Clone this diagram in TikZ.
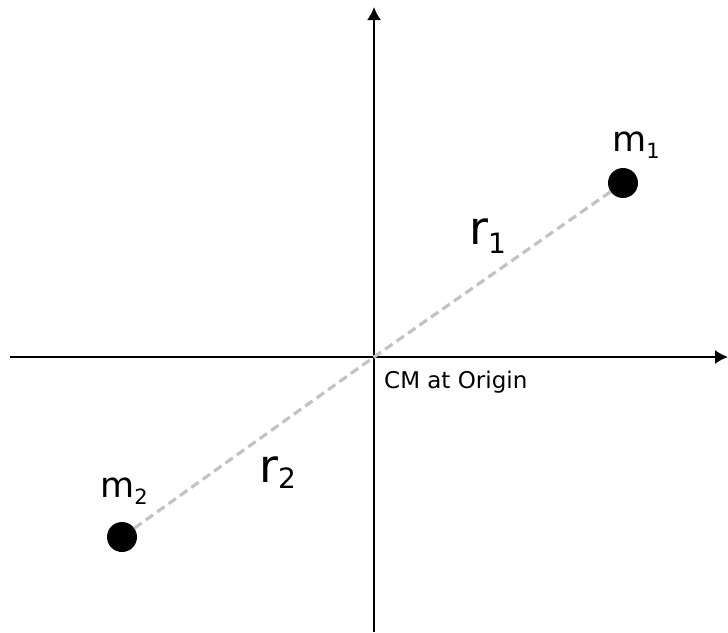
\documentclass[tikz,border=0pt]{standalone}
\usepackage{fontspec}
\setmainfont{DejaVu Sans}
\usepackage{tikz}
\usetikzlibrary{arrows.meta, positioning}
\definecolor{axiscolor}{RGB}{0,0,0}
\definecolor{sepcolor}{RGB}{195,195,195}
\definecolor{masscolor}{RGB}{0,0,0}

\begin{document}
\begin{tikzpicture}[x=1pt, y=-1pt,
    >={Latex[length=13pt, width=14pt]},
    axis/.style={
        draw=axiscolor, line width=1.8pt, ->
    },
    sep/.style={
        draw=sepcolor, line width=3.2pt,
        dash pattern=on 9pt off 5pt
    },
    mass/.style={
        circle, fill=masscolor, inner sep=0pt,
        minimum size=30pt
    },
    lbl/.style={
        anchor=base west, inner sep=0pt,
        font=\fontsize{#1}{#1}\selectfont
    }
]
\useasboundingbox (0,0) rectangle (728,632);

% =========================
% AXES
% =========================
\coordinate (O) at (374,357);
\coordinate (XL) at (10,357);
\coordinate (XR) at (728,357);
\coordinate (YB) at (374,632);
\coordinate (YT) at (374,7);

\draw[axis] (XL) -- (XR);
\draw[axis] (YB) -- (YT);

\node[lbl=23] (CM) at (384,388) {CM at Origin};

% =========================
% MASSES
% =========================
\node[mass] (M1) at (623,183) {};
\node[mass] (M2) at (122,537) {};

\draw[sep] (M2) -- (O) -- (M1);

\node[lbl=35] (M1lbl) at (612,151)
 {m\raisebox{-7pt}{\fontsize{21}{21}\selectfont 1}};
\node[lbl=35] (M2lbl) at (100,497)
 {m\raisebox{-7pt}{\fontsize{21}{21}\selectfont 2}};

% =========================
% DISTANCES
% =========================
\node[lbl=46] (R1lbl) at (469,244)
 {r\raisebox{-9pt}{\fontsize{28}{28}\selectfont 1}};
\node[lbl=46] (R2lbl) at (259,482)
 {r\raisebox{-6pt}{\fontsize{28}{28}\selectfont 2}};

\end{tikzpicture}
\end{document}
